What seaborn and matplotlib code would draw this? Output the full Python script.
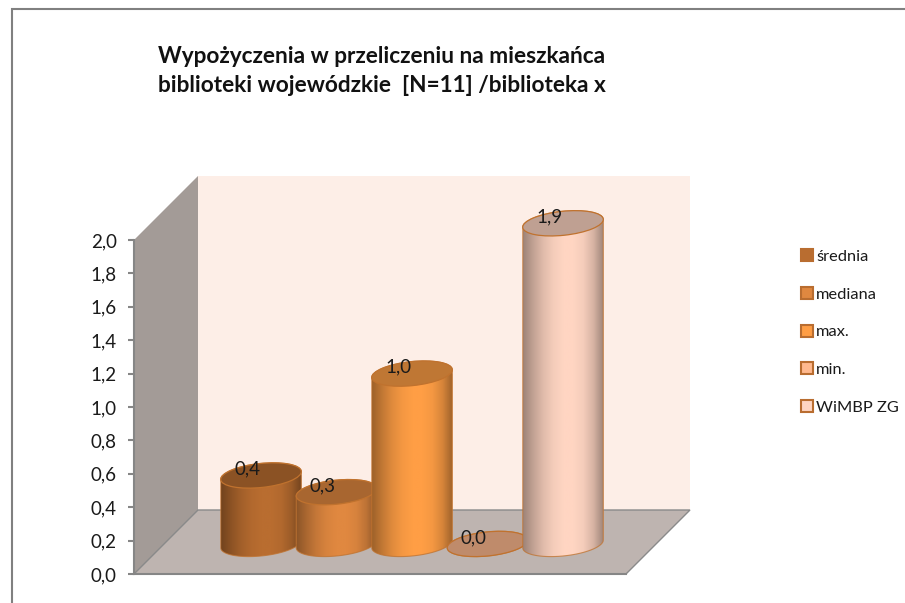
import numpy as np
import pandas as pd
import seaborn as sns
import matplotlib.pyplot as plt
from matplotlib.colors import LinearSegmentedColormap, to_rgb
from matplotlib.patches import Ellipse, PathPatch, Polygon, Rectangle
from matplotlib.path import Path
from matplotlib.transforms import IdentityTransform

categories = ['średnia', 'mediana', 'max.', 'min.', 'WiMBP ZG']
values = [0.41, 0.31, 1.02, 0.0, 1.92]
colors = ['#B96D30', '#E08840', '#FF9E45', '#FFB98F', '#FFD5C2']
y_ticks = [0.0, 0.2, 0.4, 0.6, 0.8, 1.0, 1.2, 1.4, 1.6, 1.8, 2.0]
title = 'Wypożyczenia w przeliczeniu na mieszkańca\nbiblioteki wojewódzkie  [N=11] /biblioteka x'

EDGE = '#C0722E'
W, H = 905, 603
base = 0.18  # bars stand in the middle of the floor
ell_h = 12.0
tilt = np.radians(6)


def comma(v):
    return f'{v:.1f}'.replace('.', ',')


def arc(cx, cy, a, b, t0, t1):
    t = np.linspace(t0, t1, 40)
    x = a * np.cos(t) * np.cos(tilt) - b * np.sin(t) * np.sin(tilt)
    y = a * np.cos(t) * np.sin(tilt) + b * np.sin(t) * np.cos(tilt)
    return np.column_stack([cx + x, cy + y])


sns.set_theme(style='white')
plt.rcParams['font.family'] = ['Lato', 'DejaVu Sans']

fig = plt.figure(figsize=(W / 100, H / 100), dpi=100)
ax = fig.add_axes([134 / W, 1 - 574 / H, 492 / W, 334 / H])
ax.patch.set_visible(False)

df = pd.DataFrame({'cat': categories, 'val': values})
sns.barplot(data=df, x='cat', y='val', hue='cat', palette=colors, hue_order=categories,
            order=categories, width=81 / 75.5, bottom=base, linewidth=0,
            legend=False, ax=ax)

ax.set_xlim((134 - 261) / 75.5, (626 - 261) / 75.5)
ax.set_ylim(0, 2)
ax.set_xlabel('')
ax.set_ylabel('')
ax.set_xticks([])
ax.set_yticks(y_ticks)
ax.set_yticklabels([comma(t) for t in y_ticks], fontsize=13.5, color='#1a1a1a')
ax.tick_params(axis='y', left=True, length=4, width=1.5, color='#868686', pad=8.5)
for side in ['top', 'right']:
    ax.spines[side].set_visible(False)
for side in ['left', 'bottom']:
    ax.spines[side].set_color('#868686')
    ax.spines[side].set_linewidth(1.5)

# back wall, side wall and floor
dx, dy = 64 / 492, 64 / 334
ax.add_patch(Polygon([(dx, dy), (1 + dx, dy), (1 + dx, 1 + dy), (dx, 1 + dy)], transform=ax.transAxes,
                     facecolor='#FDEEE7', edgecolor='none', clip_on=False, zorder=0.1))
ax.add_patch(Polygon([(0, 0), (dx, dy), (dx, 1 + dy), (0, 1)], transform=ax.transAxes,
                     facecolor='#A39B97', edgecolor='none', clip_on=False, zorder=0.1))
ax.add_patch(Polygon([(0, 0), (dx, dy), (1 + dx, dy), (1, 0)], transform=ax.transAxes,
                     facecolor='#BEB4B0', edgecolor='#8A8A8A', linewidth=1, clip_on=False, zorder=0.2))

fig.canvas.draw()
shade = [0.62, 0.76, 0.88, 0.96, 1.0, 1.0, 0.96, 0.84, 0.62]
for i, container in enumerate(ax.containers):
    bar = container[0]
    left, right = bar.get_x(), bar.get_x() + bar.get_width()
    z = 2 + i
    rgb = np.array(to_rgb(colors[i]))
    (x0, y0), (x1, _) = ax.transData.transform([(left, base), (right, base)])
    cx = (x0 + x1) / 2
    a = (x1 - x0) / 2
    y_top = ax.transData.transform((left, base + values[i]))[1]
    t0 = np.arctan2(-ell_h * np.sin(tilt), a * np.cos(tilt))

    body = np.vstack([arc(cx, y0, a, ell_h, t0 + np.pi, t0 + 2 * np.pi),
                      arc(cx, y_top, a, ell_h, t0, t0 + np.pi)])
    body_path = Path(np.vstack([body, body[:1]]), closed=True)
    clip = PathPatch(body_path, transform=IdentityTransform())

    bar.set_clip_path(clip)
    bar.set_clip_box(None)
    bar.set_zorder(z)

    cmap = LinearSegmentedColormap.from_list(f'cyl{i}', [np.clip(rgb * s, 0, 1) for s in shade])
    im = ax.imshow(np.linspace(0, 1, 128)[None, :], cmap=cmap, aspect='auto', interpolation='bilinear',
                   extent=[left, right, base - 0.2, base + values[i] + 0.2], zorder=z + 0.1)
    im.set_clip_box(fig.bbox)
    im.set_clip_path(clip)

    ax.add_patch(PathPatch(body_path, facecolor='none', edgecolor=EDGE, linewidth=0.8, alpha=0.75,
                           transform=IdentityTransform(), clip_on=False, zorder=z + 0.2))
    ax.add_patch(Ellipse((cx, y_top), 2 * a, 2 * ell_h, angle=np.degrees(tilt), facecolor=rgb * 0.75,
                         edgecolor=EDGE, linewidth=0.9, transform=IdentityTransform(),
                         clip_on=False, zorder=z + 0.3))

    ax.annotate(comma(values[i]), ((left + right) / 2, base + values[i]), xytext=(-10, 4.5),
                textcoords='offset points', ha='center', va='center', fontsize=13.5,
                color='#1a1a1a', annotation_clip=False, zorder=20)

ax.set_xlim((134 - 261) / 75.5, (626 - 261) / 75.5)
ax.set_ylim(0, 2)

handles = [Rectangle((0, 0), 1, 1, facecolor=c, edgecolor=colors[0], linewidth=1.5) for c in colors]
leg = ax.legend(handles, categories, loc='center left', bbox_to_anchor=(801 / W, 1 - 332 / H),
                bbox_transform=fig.transFigure, frameon=False, fontsize=11.8, labelspacing=1.4,
                handlelength=0.76, handleheight=0.76, handletextpad=0.15, borderpad=0, borderaxespad=0)
for t in leg.get_texts():
    t.set_color('#1a1a1a')

fig.text(158 / W, 1 - 71 / H, title, fontsize=16.3, fontweight='bold', color='#111111',
         ha='left', va='center', linespacing=1.49)

# chart frame runs past the edge of the screenshot
fig.add_artist(Rectangle((12 / W, -0.05), 1.05, 1 - 9 / H + 0.05, transform=fig.transFigure,
                         facecolor='none', edgecolor='#808080', linewidth=1.5))

fig.savefig('out.png', dpi=100)
